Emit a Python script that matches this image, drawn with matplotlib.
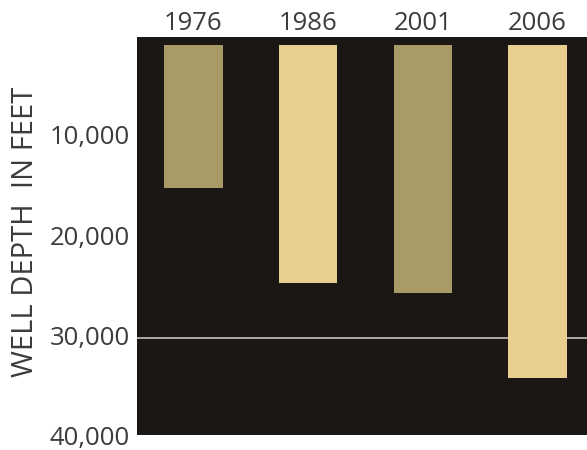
import numpy as np
import matplotlib.pyplot as plt

# Daten: Bohrtiefe in Fuss
years = ['1976', '1986', '2001', '2006']
depth_top = [1000, 1000, 1000, 1000]
depth_bottom = [15300, 24800, 25800, 34300]
ref_line = 30300
yticks = [10000, 20000, 30000, 40000]

bg = '#1b1714'
col_dark = '#a99b68'
col_light = '#e8cf90'
bar_colors = [col_dark, col_light, col_dark, col_light]
txt = '#3c3c3c'

plt.rcParams['font.family'] = ['Open Sans', 'DejaVu Sans']

fig = plt.figure(figsize=(5.87, 4.5), dpi=100)
ax = fig.add_axes([0.2334, 0.0333, 0.7666, 0.8845])
ax.set_facecolor(bg)

x = np.arange(len(years))
heights = np.array(depth_bottom) - np.array(depth_top)
ax.bar(x, heights, bottom=depth_top, width=0.51, color=bar_colors, zorder=2)
ax.axhline(ref_line, color='#b8b4ad', lw=1.3, zorder=1)

ax.set_xlim(-0.49, 3.43)
ax.set_ylim(40000, 200)
ax.set_xticks(x)
ax.set_xticklabels(years)
ax.xaxis.tick_top()
ax.set_yticks(yticks)
ax.set_yticklabels(['{:,}'.format(v) for v in yticks])
ax.tick_params(axis='both', length=0, colors=txt, labelsize=18.5)
ax.tick_params(axis='x', pad=1)
ax.tick_params(axis='y', pad=5)
for s in ax.spines.values():
    s.set_visible(False)

fig.text(0.043, 0.485, 'WELL DEPTH  IN FEET', rotation=90, ha='center', va='center',
         color=txt, fontsize=21)

fig.savefig('out.png', dpi=100)
